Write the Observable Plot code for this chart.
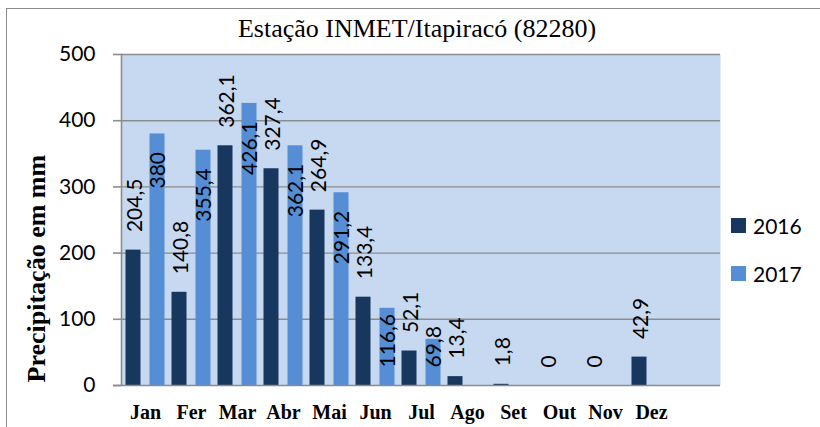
<!DOCTYPE html>
<html><head><meta charset="utf-8">
<script src="https://cdn.jsdelivr.net/npm/d3@7"></script>
<script src="https://cdn.jsdelivr.net/npm/@observablehq/plot@0.6"></script>
<style>
body{margin:0;background:#fff;}
#wrap{position:relative;width:820px;height:427px;overflow:hidden;background:#fff;}
#chart{position:absolute;left:0;top:0;}
#frame{position:absolute;left:6px;top:8px;width:900px;height:600px;border:1.5px solid #8c8c8c;box-sizing:border-box;pointer-events:none}
#title{position:absolute;left:0;width:834px;top:16px;text-align:center;font:26px/26px "Liberation Serif","Times New Roman",serif;color:#000;white-space:nowrap}
.leg{position:absolute;left:731px;display:flex;align-items:center;height:15px;font:21px/15px "Lato",sans-serif;color:#000}
.sw{width:15px;height:15px;margin-right:7px}
</style></head><body>
<div id="wrap"><div id="chart"></div><div id="frame"></div><div id="title"></div><div id="legend"></div></div>
<script>
const title = "Estação INMET/Itapiracó (82280)";
const yLabel = "Precipitação em mm";
const months = ["Jan","Fer","Mar","Abr","Mai","Jun","Jul","Ago","Set","Out","Nov","Dez",""];
const series = ["2016","2017"];
const colors = ["#17375e","#558ed5"];
const values2016 = [204.5,140.8,362.1,327.4,264.9,133.4,52.1,13.4,1.8,0,0,42.9];
const values2017 = [380,355.4,426.1,362.1,291.2,116.6,69.8];
const yTicks = [0,100,200,300,400,500];

const d2016 = values2016.map((v,i)=>({month:months[i], value:v, series:series[0]}));
const d2017 = values2017.map((v,i)=>({month:months[i], value:v, series:series[1]}));
const fmt = v => String(v).replace(".", ",");
const labelFont = {fontFamily:"Lato", fontSize:21, rotate:-90, fill:"#000"};

const chart = Plot.plot({
  width: 820, height: 427,
  marginLeft: 121, marginRight: 100, marginTop: 54, marginBottom: 42,
  style: {fontFamily:"Lato", fontSize:"21px", background:"transparent", color:"#000", overflow:"visible"},
  x: {domain: months, padding: 0},
  y: {domain: [0, 500]},
  marks: [
    Plot.frame({fill:"#c6d9f1", stroke:"none"}),
    Plot.ruleY(yTicks.filter(t => t > 0), {stroke:"#8c8c8c", strokeWidth:1.4}),
    Plot.barY(d2016, {x:"month", y:"value", fill:colors[0], insetLeft:15.5, insetRight:15.5, dx:-12}),
    Plot.barY(d2017, {x:"month", y:"value", fill:colors[1], insetLeft:15.5, insetRight:15.5, dx:12}),
    Plot.ruleY([0], {stroke:"#8c8c8c", strokeWidth:1.6, insetLeft:-8}),
    Plot.frame({anchor:"left", stroke:"#8c8c8c", strokeWidth:1.6}),
    Plot.axisY(yTicks, {tickSize:8, tickPadding:18, stroke:"#8c8c8c", strokeWidth:1.6, fontSize:21, fontFamily:"Lato", label:null}),
    Plot.axisX({tickSize:0, tickPadding:19, fontFamily:"Liberation Serif", fontWeight:"bold", fontSize:20, label:null}),
    Plot.text([yLabel], {frameAnchor:"bottom-left", rotate:-90, textAnchor:"start", dx:-77, dy:-3,
      fontFamily:"Liberation Serif", fontWeight:"bold", fontSize:26, fill:"#000"}),
    Plot.text(d2016, {x:"month", y:"value", text: d => fmt(d.value), textAnchor:"start", dx:-10.5, dy:-18, ...labelFont}),
    Plot.text(d2017.filter(d => d.value > 150), {x:"month", y:"value", text: d => fmt(d.value), textAnchor:"end", dx:13, dy:18, ...labelFont}),
    Plot.text(d2017.filter(d => d.value <= 150), {x:"month", y: () => 0, text: d => fmt(d.value), textAnchor:"start", dx:13, dy:-18, ...labelFont})
  ]
});
document.getElementById("chart").appendChild(chart);
document.getElementById("title").textContent = title;
const legend = document.getElementById("legend");
series.forEach((s, i) => {
  const item = document.createElement("div");
  item.className = "leg";
  item.style.top = (218 + i * 48) + "px";
  const sw = document.createElement("div");
  sw.className = "sw";
  sw.style.background = colors[i];
  const t = document.createElement("span");
  t.textContent = s;
  item.appendChild(sw); item.appendChild(t);
  legend.appendChild(item);
});
</script>
</body></html>
